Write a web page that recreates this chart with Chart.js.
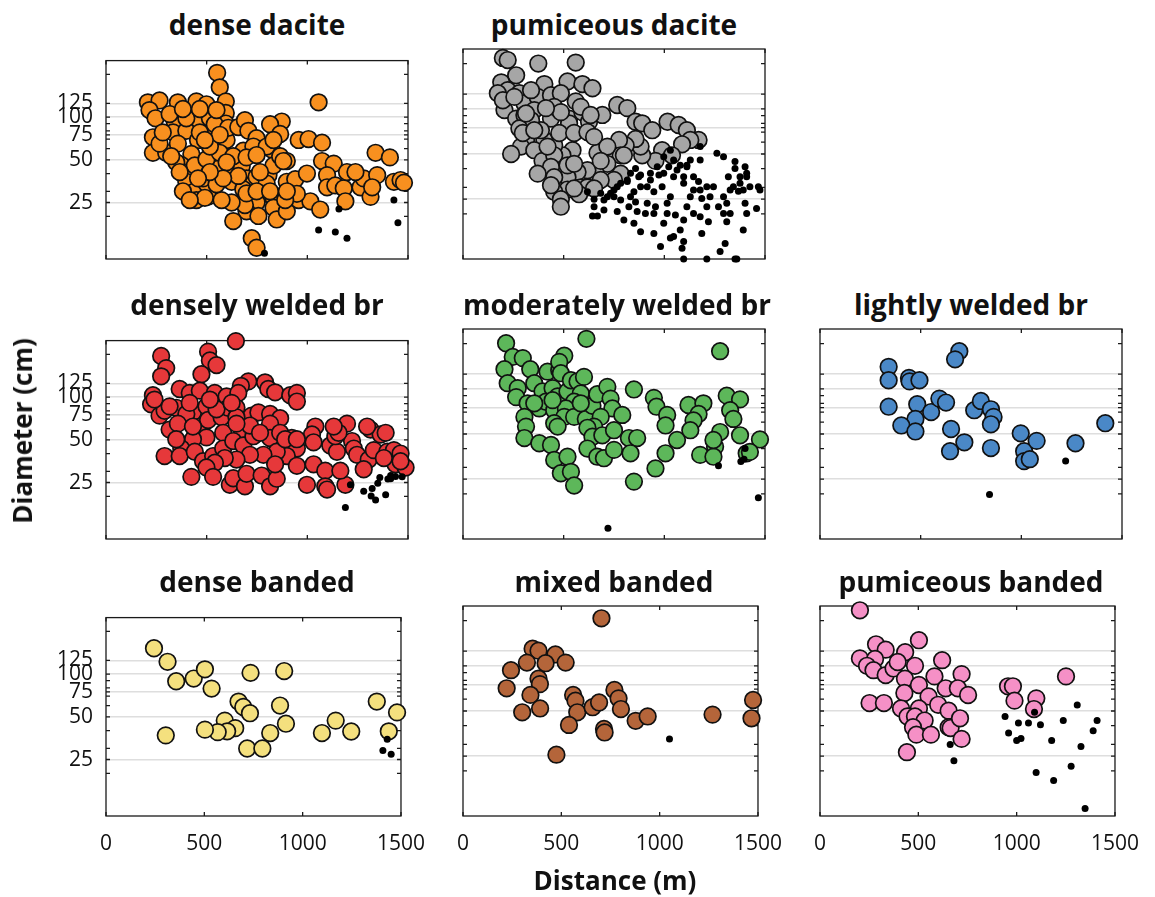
<!DOCTYPE html>
<html>
<head>
<meta charset="utf-8">
<script src="https://cdn.jsdelivr.net/npm/chart.js@4.4.1/dist/chart.umd.min.js"></script>
<style>
  body { margin: 0; background: #fff; }
  #wrap { position: relative; width: 1155px; height: 897px; overflow: hidden; font-family: "Open Sans", sans-serif; color: #111; }
  #wrap canvas { position: absolute; }
  .title { position: absolute; width: 302px; text-align: center; font-weight: 700; font-size: 28px; line-height: 28px; white-space: nowrap; }
  .axis-label { position: absolute; font-weight: 700; font-size: 26px; line-height: 26px; white-space: nowrap; }
</style>
</head>
<body>
<div id="wrap"></div>
<script>
// distance (m), diameter (cm)
const denseDacite = [[552,205],[565,162],[595,129],[595,107],[595,90],[1056,127],
  [208,127],[266,131],[357,127],[449,129],[499,123],[216,112],[246,98],[341,93],[424,101],[466,93],[516,98],[233,72],[233,56],[299,56],[266,65],[333,78],[399,80],[457,69],[532,78],[540,89],[399,98],[316,105],[382,114],[466,114],[549,112],
  [357,65],[424,55],[374,46],[407,41],[399,35],[441,30],[449,26],[507,27.5],[499,34],[540,45],[540,56],[599,69],[607,84],[657,85],[690,95],[707,80],[748,71],[682,58],[665,46],[632,40],[624,35],[674,45],[698,37],[732,34],[748,38],[807,39],[798,34],[765,28],[748,25],[698,21.7],[757,20.1],[690,24],[624,25],[574,26],[491,27],[632,18.5],[724,14],[748,12],[832,27],[832,23],[848,19],[898,21.7],[823,59],[832,45.6],[865,53],[898,49],[873,93],[815,89],[865,76],[957,69],[1006,70],[1073,66],[1073,49],[1131,47],[1098,39],[898,35],[940,36.5],[998,40],[957,26],[1015,25.5],[1064,22.3],[1098,32],[1139,33],[1181,31.5],[1197,41],[1189,25.5],[1264,32],[1280,37],[1314,27.4],[1339,56],[1347,39],[1410,52],[1430,35],[1463,36],[1480,34.5],[1239,41],[1322,32],[948,28.8],[890,26],
  [682,31],[657,38.5],[732,62],[798,62],[832,69],[881,49],[765,41],[698,29],[748,30],[815,30],[898,30],[382,30],[416,26],[482,37],[549,33.6],[441,45.6],[499,50.5],[565,56],[349,48],[366,41],[324,53],[282,78],[466,78],[516,62],[565,75],[491,69],[632,53],[698,52],[748,54],[599,48],[582,37],[516,41],[457,37]];
const denseDaciteSmall = [[787,11],[1056,16],[1139,15.5],[1197,14],[1157,22.5],[1430,26],[1450,18]];

const pumDacite = [[198,218],[222,211],[374,200],[560,203],[264,167],[190,150],[222,133],[173,127],[404,146],[519,152],[593,146],[643,137],[280,127],[206,98],[198,114],[305,109],[371,120],[437,123],[486,127],[560,112],[264,86],[305,91],[354,98],[437,86],[527,86],[593,95],[626,82],[692,91],[766,106],[816,101],[857,82],[890,80],[940,72],[1016,82],[1071,78],[1112,72],[1170,62],[1129,62],[1088,58],[989,53],[1038,49],[956,45],[890,49],[882,56],[857,63],[808,57],[775,62],[783,49],[668,51],[717,43],[783,37],[750,33.6],[660,37],[618,39],[569,38],[519,35],[544,53],[494,49],[453,57],[404,62],[387,72],[338,84],[280,74],[313,62],[288,56],[239,50],[297,69],[354,53],[395,45],[453,49],[437,41],[371,37],[453,35],[519,42],[552,43],[585,30],[618,30],[577,27],[519,29],[453,28],[486,25],[486,22.3],[437,31],[527,80],[478,69],[420,56],[338,133],[354,72],[552,69],[618,70],[651,65],[717,56],[799,49],[684,45],[684,33.6],[651,29.5],[552,29.5],[585,103],[634,91],[453,103],[486,95],[412,101],[255,120],[313,93]];
const pumDaciteSmall = [[618,28],[651,25],[651,22.3],[643,19.3],[668,19.3],[700,21.2],[717,26],[733,27.4],[750,28.8],[766,30.3],[783,31.9],[783,24.7],[766,20.7],[799,18.2],[824,22.3],[832,26],[849,28],[857,24],[865,20.7],[849,17.3],[882,15.2],[906,20.1],[915,23.5],[882,30.3],[816,32.8],[832,37.2],[857,40],[873,35.3],[915,30.3],[931,33.6],[948,28],[956,22.3],[948,20.1],[948,14.8],[981,12.1],[997,17.3],[1014,20.1],[1014,23.5],[1030,26],[989,30.3],[973,36.3],[997,37.2],[1022,41.2],[1046,35.3],[1063,39.2],[1079,42],[1096,35.3],[1112,41.2],[1096,31.9],[1145,35.3],[1170,32.8],[1145,28.8],[1129,26],[1112,22.3],[1145,20.1],[1096,18.2],[1055,19.6],[1079,15.6],[1046,14.1],[1030,13.8],[1096,13.1],[1088,11.8],[1096,10],[1178,28.8],[1211,30.3],[1186,25.3],[1211,22.3],[1178,19.1],[1219,17.7],[1186,14.8],[1211,10],[1227,26],[1244,30.3],[1269,22.3],[1294,26],[1294,20.1],[1310,23.5],[1327,20.1],[1310,17.7],[1277,11.2],[1302,12.7],[1351,10],[1360,10],[1392,15.6],[1401,23.5],[1409,20.1],[1327,28.8],[1343,30.3],[1368,28.3],[1392,28.8],[1376,31.9],[1425,30.3],[1467,30.3],[1475,28.8],[1458,21.7],[1409,35.3],[1409,37.2],[1376,35.3],[1318,35.3],[1351,40],[1351,44.5],[1401,41.2],[1294,48],[1261,50.5],[1178,56],[1178,45.6],[1129,45.6],[1112,42],[1030,53],[997,48],[1046,45.6],[965,41.2],[931,37.2],[882,36.3],[816,33.6],[750,26],[700,24.7],[684,27.4]];

const denseWelded = [[645,248],[274,195],[507,209],[516,181],[549,168],[299,160],[274,140],[474,145],[707,129],[670,120],[790,127],[806,114],[840,108],[915,103],[948,107],[948,93],[233,103],[224,89],[266,74],[366,114],[416,107],[466,111],[540,107],[599,101],[657,107],[349,84],[432,78],[499,86],[399,76],[316,59],[357,65],[466,62],[507,69],[574,72],[607,84],[648,84],[723,74],[757,78],[815,76],[865,71],[815,65],[723,59],[674,59],[582,56],[499,52],[432,50.5],[374,43.4],[291,38.4],[366,38.4],[441,41.2],[482,35.3],[532,38.4],[582,43.4],[632,49],[682,45.6],[732,53],[815,51.5],[865,56],[923,51.5],[948,43.4],[898,38.4],[848,41.2],[782,39.2],[715,39.2],[648,36.3],[590,37.2],[541,34.5],[499,31.9],[424,27.4],[532,27.4],[615,24.1],[632,26.8],[690,23.5],[698,28.8],[773,28],[815,23.5],[848,26.6],[840,33.6],[948,32.8],[1031,33.6],[1089,30.3],[998,24.1],[1089,23.5],[1098,22.3],[1189,24.1],[1164,30.3],[1040,62],[1023,54.5],[1031,48],[1114,45.6],[1147,41.2],[1139,53],[1197,65],[1222,49],[1231,43.4],[1247,39.2],[1305,36.3],[1280,31],[1330,42.3],[1314,59],[1364,54.5],[1389,56],[1297,62],[1397,41.2],[1430,42.3],[1463,40],[1438,33.6],[1488,31.9],[1463,35.3],[1380,37.2],[1155,56],[1131,62],[291,80],[241,96],[316,86],[416,91],[549,82],[648,72],[715,63],[765,56],[890,50.5],[948,50.5],[432,62],[648,65],[624,91],[516,96],[349,50.5]];
const denseWeldedSmall = [[1214,24.1],[1189,16.7],[1280,21.7],[1322,22.7],[1317,20.1],[1339,18.8],[1350,24.7],[1360,27.1],[1389,20.5],[1400,26.5],[1414,28],[1438,27.6],[1471,27.4],[1414,26.6]];

const modWelded = [[214,201],[613,215],[1277,178],[247,163],[297,160],[206,135],[334,135],[420,130],[478,133],[503,166],[478,151],[486,127],[222,109],[272,101],[354,109],[395,96],[445,101],[264,88],[321,80],[379,74],[412,82],[453,72],[470,89],[519,96],[536,114],[569,112],[601,120],[585,93],[552,82],[511,74],[503,65],[552,65],[610,63],[643,77],[667,92],[717,103],[733,86],[742,74],[791,67],[684,65],[651,56],[618,55],[643,48],[692,49],[750,53],[305,65],[313,56],[305,47],[379,43.4],[437,42.3],[453,59],[470,56],[453,33.6],[519,35.3],[486,27.4],[536,28],[552,22.7],[618,40],[667,35.3],[700,34.5],[750,39.2],[824,47],[865,47],[832,37.2],[849,24.1],[849,99],[948,87],[961,76],[1014,67],[1006,57],[1063,45.6],[1006,37.2],[956,29.5],[1120,78],[1194,80],[1170,68],[1145,61.5],[1129,53],[1178,36.3],[1252,41.2],[1244,35.3],[1277,51.5],[1310,90],[1376,85],[1327,72],[1343,63],[1376,49],[1475,46],[1409,37.2],[1425,38],[1244,45.6],[445,84],[354,80],[585,80]];
const modWeldedSmall = [[720,11.8],[1269,30.7],[1401,40],[1380,32.8],[1396,34],[1467,18.8]];

const lightWelded = [[692,178],[671,157],[341,140],[341,114],[442,118],[445,112],[494,114],[341,76],[483,79],[474,63],[404,57],[474,52],[552,70],[593,86],[626,81],[651,54],[717,44],[646,38.4],[766,72],[799,83],[849,73],[862,65],[849,58],[849,40.3],[997,50.5],[1014,38.4],[1014,33],[1042,34],[1076,45],[1269,43.4],[1417,59]];
const lightWeldedSmall = [[842,19.8],[1220,33]];

const denseBanded = [[244,152],[313,122],[357,89],[446,93],[503,108],[537,79],[735,102],[906,105],[674,64],[698,58.6],[732,53],[885,60],[604,47],[657,41.6],[616,39.5],[568,39],[503,40.6],[304,37],[915,44.7],[835,38.4],[718,29.9],[795,29.9],[1098,38.4],[1168,47],[1247,39.4],[1377,64],[1480,53.7],[1438,39.5]];
const denseBandedSmall = [[1430,34.8],[1408,29],[1450,27.2]];

const mixedBanded = [[704,207],[354,130],[384,126],[470,119],[325,105],[420,104],[522,105],[244,93.5],[384,82],[391,75.5],[222,70.8],[343,64],[301,49],[392,52],[560,64],[572,58.6],[581,49],[539,40.4],[659,53],[692,57],[770,69],[791,60.7],[803,51.5],[878,43],[939,46],[717,38],[720,36],[475,25.6],[1269,47.3],[1467,44.7],[1475,59.2]];
const mixedBandedSmall = [[1050,32.6]];

const pumBanded = [[203,234],[285,139],[334,128],[433,123],[503,148],[203,112],[280,111],[239,100],[272,93.5],[334,86.7],[374,96],[395,106],[483,100],[432,82],[503,74.5],[582,85],[621,109],[720,88],[639,70.8],[701,70.8],[753,63.9],[429,65.9],[552,62.5],[601,55],[654,50.2],[252,56.5],[325,56.5],[412,52],[503,52],[445,46],[483,46],[532,43.2],[473,39],[490,34.8],[564,34.8],[654,39],[664,38.5],[712,44.7],[720,32.6],[442,26.6],[956,73],[981,73],[989,58.6],[1100,60.7],[1088,51.5],[1251,85]];
const pumBandedSmall = [[662,29.9],[681,23.3],[941,45.9],[959,35.7],[1000,31.8],[1022,32.8],[1009,41.6],[1060,41.6],[1091,49],[1121,40.5],[1099,19.5],[1178,31.8],[1188,17.2],[1237,43.2],[1277,21.4],[1308,54.8],[1327,29],[1389,37],[1409,43.2],[1348,11.2]];

const xTicks = [0, 500, 1000, 1500];
const yLabels = [25, 50, 75, 100, 125];
const yTickMarks = [20, 25, 30, 40, 50, 60, 70, 75, 80, 90, 100, 125, 200];

// layout of the 3x3 grid (top right is empty)
const colLeft = [106, 463, 820];
const rowTop = [49, 329, 606];
const plotW = 302, plotH = 210;
const padL = 75, padR = 32, padT = 14, padB = 50;

const panels = [
  { title: "dense dacite", row: 0, col: 0, big: denseDacite, small: denseDaciteSmall, color: "#F8901F" },
  { title: "pumiceous dacite", row: 0, col: 1, big: pumDacite, small: pumDaciteSmall, color: "#A6A6A6" },
  { title: "densely welded br", row: 1, col: 0, big: denseWelded, small: denseWeldedSmall, color: "#E6383A" },
  { title: "moderately welded br", row: 1, col: 1, big: modWelded, small: modWeldedSmall, color: "#5DB75A" },
  { title: "lightly welded br", row: 1, col: 2, big: lightWelded, small: lightWeldedSmall, color: "#4A88C7" },
  { title: "dense banded", row: 2, col: 0, big: denseBanded, small: denseBandedSmall, color: "#F4E07E" },
  { title: "mixed banded", row: 2, col: 1, big: mixedBanded, small: mixedBandedSmall, color: "#B4653A" },
  { title: "pumiceous banded", row: 2, col: 2, big: pumBanded, small: pumBandedSmall, color: "#F590C6" },
];

// box + inward tick marks, matlab style
const boxTicks = {
  id: "boxTicks",
  beforeDatasetsDraw(chart) {
    const { ctx, chartArea: a, scales: { x, y } } = chart;
    ctx.save();
    ctx.strokeStyle = "#1a1a1a";
    ctx.lineWidth = 1.3;
    ctx.strokeRect(a.left, a.top, a.right - a.left, a.bottom - a.top);
    ctx.beginPath();
    xTicks.forEach((v) => {
      const px = x.getPixelForValue(v);
      ctx.moveTo(px, a.bottom); ctx.lineTo(px, a.bottom - 4);
      ctx.moveTo(px, a.top); ctx.lineTo(px, a.top + 4);
    });
    yTickMarks.forEach((v) => {
      const py = y.getPixelForValue(v);
      ctx.moveTo(a.left, py); ctx.lineTo(a.left + 4, py);
      ctx.moveTo(a.right, py); ctx.lineTo(a.right - 4, py);
    });
    ctx.stroke();
    ctx.restore();
  },
};

const toXY = (arr) => arr.map((p) => ({ x: p[0], y: p[1] }));
const wrap = document.getElementById("wrap");
const tickFont = { family: "Open Sans", size: 21 };

panels.forEach((p) => {
  const left = colLeft[p.col], top = rowTop[p.row];

  const title = document.createElement("div");
  title.className = "title";
  title.style.left = left + "px";
  title.style.top = (top - 39) + "px";
  title.textContent = p.title;
  wrap.appendChild(title);

  const canvas = document.createElement("canvas");
  canvas.width = padL + plotW + padR;
  canvas.height = padT + plotH + padB;
  canvas.style.left = (left - padL) + "px";
  canvas.style.top = (top - padT) + "px";
  wrap.appendChild(canvas);

  new Chart(canvas, {
    type: "scatter",
    data: {
      datasets: [
        {
          data: toXY(p.small),
          pointRadius: 3.5,
          pointBackgroundColor: "#000",
          pointBorderWidth: 0,
          clip: false,
        },
        {
          data: toXY(p.big),
          pointRadius: 8.3,
          pointBackgroundColor: p.color,
          pointBorderColor: "#111",
          pointBorderWidth: 1.7,
          clip: false,
        },
      ],
    },
    options: {
      responsive: false,
      animation: false,
      events: [],
      layout: { padding: { left: 0, top: padT, right: padR, bottom: 0 }, autoPadding: false },
      plugins: { legend: { display: false }, tooltip: { enabled: false } },
      scales: {
        x: {
          type: "linear",
          min: 0,
          max: 1500,
          afterBuildTicks: (s) => { s.ticks = xTicks.map((v) => ({ value: v })); },
          afterFit: (s) => { s.height = padB; },
          grid: { display: false, drawTicks: false },
          border: { display: false },
          ticks: {
            display: p.row === 2,
            font: tickFont,
            color: "#111",
            padding: 15,
            maxRotation: 0,
            autoSkip: false,
            callback: (v) => String(v),
          },
        },
        y: {
          type: "logarithmic",
          min: 10,
          max: 250,
          afterBuildTicks: (s) => { s.ticks = yTickMarks.map((v) => ({ value: v })); },
          afterFit: (s) => { s.width = padL; },
          grid: {
            drawTicks: false,
            lineWidth: 1.5,
            color: (c) => (c.tick && yLabels.includes(c.tick.value) ? "#dedede" : "rgba(0,0,0,0)"),
          },
          border: { display: false },
          ticks: {
            display: p.col === 0,
            autoSkip: false,
            font: tickFont,
            color: "#111",
            padding: 13,
            callback: (v) => (yLabels.includes(v) ? String(v) : ""),
          },
        },
      },
    },
    plugins: [boxTicks],
  });
});

// shared axis titles
const yTitle = document.createElement("div");
yTitle.className = "axis-label";
yTitle.textContent = "Diameter (cm)";
yTitle.style.left = "22px";
yTitle.style.top = "431px";
yTitle.style.transform = "translate(-50%, -50%) rotate(-90deg)";
wrap.appendChild(yTitle);

const xTitle = document.createElement("div");
xTitle.className = "axis-label";
xTitle.textContent = "Distance (m)";
xTitle.style.left = "615px";
xTitle.style.top = "867px";
xTitle.style.transform = "translateX(-50%)";
wrap.appendChild(xTitle);
</script>
</body>
</html>
